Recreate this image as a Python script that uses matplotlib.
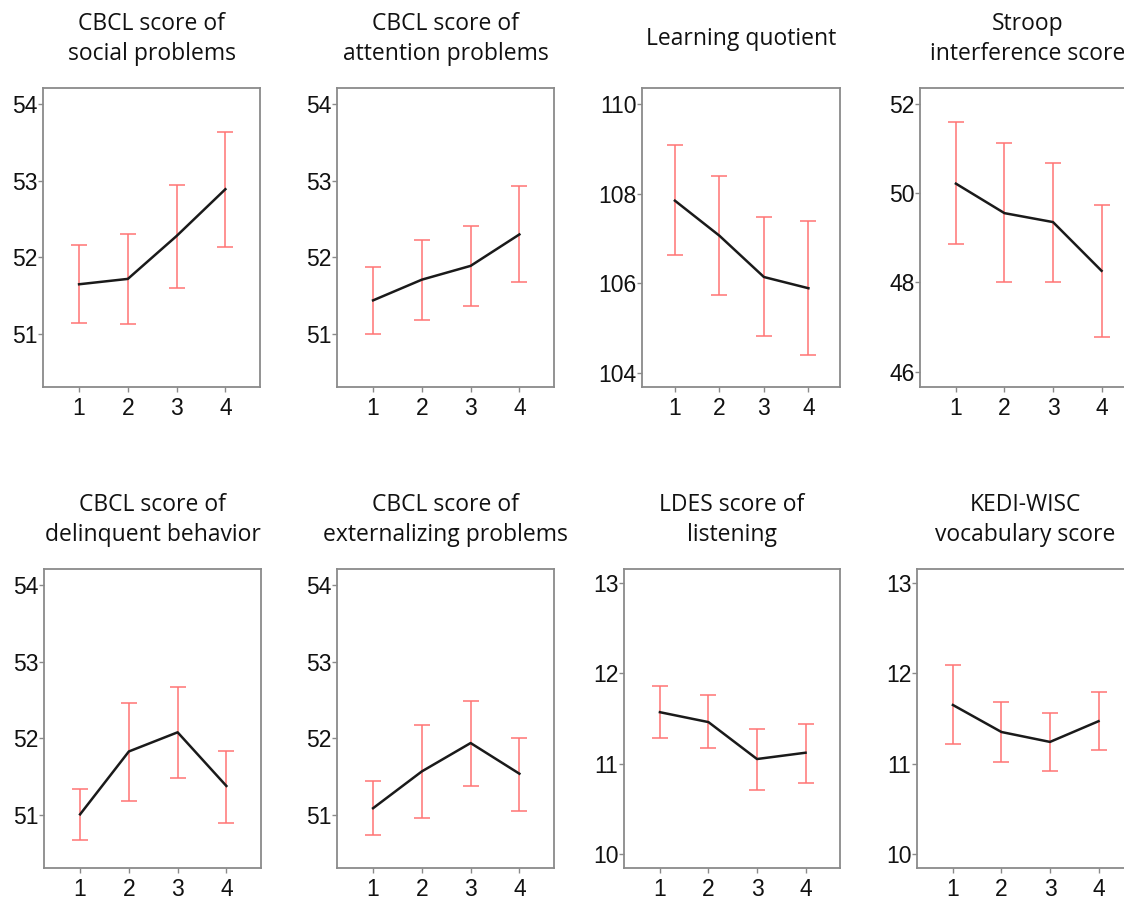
import matplotlib
matplotlib.use("Agg")
import matplotlib.pyplot as plt
import numpy as np

W, H = 1124, 901

groups = [1, 2, 3, 4]
group_labels = ["1", "2", "3", "4"]

titles = [
    "CBCL score of\nsocial problems",
    "CBCL score of\nattention problems",
    "Learning quotient",
    "Stroop\ninterference score",
    "CBCL score of\ndelinquent behavior",
    "CBCL score of\nexternalizing problems",
    "LDES score of\nlistening",
    "KEDI-WISC\nvocabulary score",
]

social_mean = [51.65, 51.72, 52.28, 52.89]
social_lo = [51.15, 51.13, 51.60, 52.14]
social_hi = [52.16, 52.31, 52.95, 53.64]

attention_mean = [51.44, 51.71, 51.89, 52.30]
attention_lo = [51.00, 51.19, 51.37, 51.68]
attention_hi = [51.88, 52.23, 52.41, 52.93]

lq_mean = [107.84, 107.06, 106.14, 105.89]
lq_lo = [106.62, 105.74, 104.82, 104.41]
lq_hi = [109.08, 108.38, 107.47, 107.38]

stroop_mean = [50.21, 49.55, 49.35, 48.26]
stroop_lo = [48.85, 48.00, 48.02, 46.77]
stroop_hi = [51.59, 51.12, 50.68, 49.74]

delinq_mean = [51.01, 51.83, 52.08, 51.38]
delinq_lo = [50.68, 51.18, 51.49, 50.90]
delinq_hi = [51.34, 52.46, 52.67, 51.84]

extern_mean = [51.09, 51.57, 51.94, 51.54]
extern_lo = [50.74, 50.96, 51.38, 51.05]
extern_hi = [51.44, 52.17, 52.49, 52.01]

listen_mean = [11.57, 11.46, 11.05, 11.12]
listen_lo = [11.28, 11.17, 10.71, 10.78]
listen_hi = [11.86, 11.76, 11.38, 11.44]

vocab_mean = [11.65, 11.35, 11.24, 11.47]
vocab_lo = [11.22, 11.02, 10.92, 11.15]
vocab_hi = [12.09, 11.68, 11.56, 11.79]

yticks_cbcl = [51, 52, 53, 54]
yticks_lq = [104, 106, 108, 110]
yticks_stroop = [46, 48, 50, 52]
yticks_small = [10, 11, 12, 13]

series = [
    (social_mean, social_lo, social_hi, yticks_cbcl, (50.31, 54.21)),
    (attention_mean, attention_lo, attention_hi, yticks_cbcl, (50.31, 54.21)),
    (lq_mean, lq_lo, lq_hi, yticks_lq, (103.69, 110.35)),
    (stroop_mean, stroop_lo, stroop_hi, yticks_stroop, (45.66, 52.35)),
    (delinq_mean, delinq_lo, delinq_hi, yticks_cbcl, (50.31, 54.21)),
    (extern_mean, extern_lo, extern_hi, yticks_cbcl, (50.31, 54.21)),
    (listen_mean, listen_lo, listen_hi, yticks_small, (9.84, 13.16)),
    (vocab_mean, vocab_lo, vocab_hi, yticks_small, (9.84, 13.16)),
]

# axes boxes in pixels: (left, right, top, bottom)
boxes = [
    (43, 260, 88, 387),
    (337, 554, 88, 387),
    (642, 840, 88, 387),
    (920, 1136, 88, 387),
    (44, 261, 569, 868),
    (337, 554, 569, 868),
    (624, 840, 569, 868),
    (917, 1133, 569, 868),
]
title_y = [39, 39, 39, 39, 520, 520, 520, 520]

fig = plt.figure(figsize=(W / 100, H / 100), dpi=100)
fig.patch.set_facecolor("white")

spine_col = "#8a8a8a"
err_col = "#ff7474"

for i, ((m, lo, hi, yt, ylim), (l, r, t, b)) in enumerate(zip(series, boxes)):
    ax = fig.add_axes([l / W, 1 - b / H, (r - l) / W, (b - t) / H])
    m = np.array(m); lo = np.array(lo); hi = np.array(hi)
    ax.errorbar(groups, m, yerr=[m - lo, hi - m], fmt="none", ecolor=err_col,
                elinewidth=1.1, capsize=5.5, capthick=1.1, zorder=2)
    ax.plot(groups, m, color="#1a1a1a", lw=1.8, zorder=3)
    ax.set_xlim(0.26, 4.71)
    ax.set_ylim(*ylim)
    ax.set_xticks(groups)
    ax.set_xticklabels(group_labels)
    ax.set_yticks(yt)
    ax.set_yticklabels([str(v) for v in yt])
    for s in ax.spines.values():
        s.set_color(spine_col)
        s.set_linewidth(1.3)
    ax.tick_params(axis="both", direction="out", length=3.5, width=1,
                   color=spine_col, labelcolor="#111111", labelsize=16.5)
    ax.tick_params(axis="y", pad=0.5)
    ax.tick_params(axis="x", pad=4)
    for lab in ax.get_xticklabels() + ax.get_yticklabels():
        lab.set_family(["Liberation Sans", "DejaVu Sans"])
    fig.text((l + r) / 2 / W, 1 - title_y[i] / H, titles[i], ha="center",
             va="center", multialignment="center", fontsize=16.5,
             family=["Open Sans", "DejaVu Sans"], linespacing=1.28,
             color="#111111")

fig.savefig("out.png", dpi=100, facecolor="white")
